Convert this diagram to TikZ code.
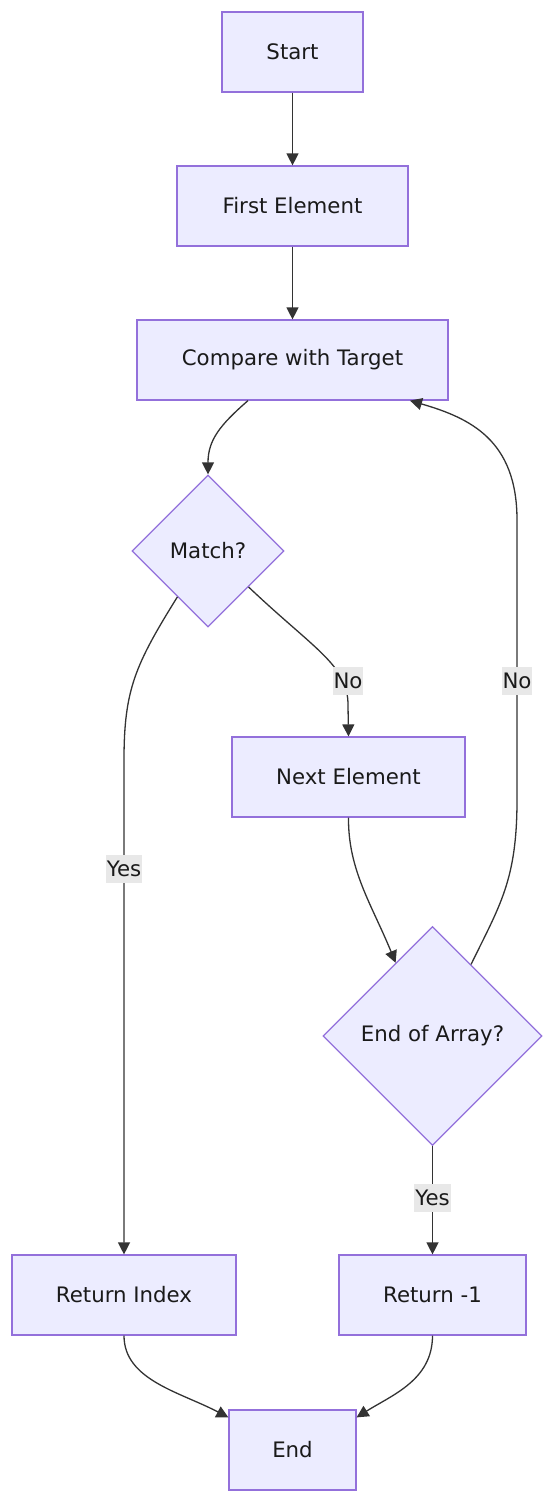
\documentclass[tikz,border=0pt]{standalone}
\usepackage{fontspec}
\setmainfont{DejaVu Sans}
\usetikzlibrary{shapes.geometric,arrows.meta,calc}
\definecolor{nfill}{HTML}{ECECFF}
\definecolor{nline}{HTML}{9370DB}
\definecolor{eline}{HTML}{333333}
\definecolor{lblbg}{HTML}{E8E8E8}
\definecolor{txt}{HTML}{1A1A1A}
\tikzset{
  box/.style={draw=nline, fill=nfill, line width=1.2pt, minimum height=80pt, inner sep=0pt, text=txt, font=\fontsize{21.3}{24}\selectfont},
  dia/.style={diamond, draw=nline, fill=nfill, line width=1.2pt, inner sep=0pt, text=txt, font=\fontsize{21.3}{24}\selectfont},
  edge/.style={draw=eline, line width=1.3pt, -{Triangle[length=12pt,width=12pt]}},
  lbl/.style={fill=lblbg, inner xsep=1pt, inner ysep=6pt, text=txt, font=\fontsize{21.3}{24}\selectfont}
}
\begin{document}
\begin{tikzpicture}[x=1pt,y=-1pt]
\useasboundingbox (0,0) rectangle (554,1502);
\node[box, minimum width=141pt] (start) at (292.5,52) {Start};
\node[box, minimum width=231pt] (first) at (292.5,206) {First Element};
\node[box, minimum width=311pt] (cmp) at (292.5,360) {Compare with Target};
\node[dia, minimum width=152pt, minimum height=152pt] (match) at (208,551) {Match?};
\node[box, minimum width=233pt] (next) at (348.5,777) {Next Element};
\node[dia, minimum width=219pt, minimum height=219pt] (eoa) at (432.5,1036) {End of Array?};
\node[box, minimum width=224pt] (retidx) at (124,1295) {Return Index};
\node[box, minimum width=187pt] (retm) at (432.5,1295) {Return -1};
\node[box, minimum width=127pt] (end) at (292.5,1450) {End};

\draw[edge] (start) -- (first);
\draw[edge] (first) -- (cmp);
\draw[edge] ([xshift=-44.5pt]cmp.south) .. controls (220,425) and (208,440) .. (match.north);
\draw[edge] ($(match.west)!0.6!(match.south)$) .. controls (135,665) and (124,690) .. (124,760)
  -- node[lbl, pos=0.22] {Yes} (retidx.north);
\draw[edge] ($(match.east)!0.47!(match.south)$) .. controls (315,650) and (348,665) .. (348,705)
  -- (next.north);
\node[lbl] (noL) at (348,681) {No};
\draw[edge] (next.south) .. controls (348,870) and (372,905) .. ($(eoa.north west)!0.33!(eoa.north)$);
\draw[edge] ($(eoa.north)!0.35!(eoa.east)$) .. controls (500,905) and (517,880) .. (517,800)
  -- (517,520) .. controls (517,440) and (470,418) .. ([xshift=117.5pt]cmp.south);
\node[lbl] (noR) at (517,681) {No};
\draw[edge] (eoa.south) -- node[lbl, pos=0.48] {Yes} (retm.north);
\draw[edge] (retidx.south) .. controls (124,1380) and (180,1392) .. ([yshift=-8pt]end.north west);
\draw[edge] (retm.south) .. controls (432.5,1380) and (392,1395) .. ([yshift=-8pt]end.north east);
\end{tikzpicture}
\end{document}
